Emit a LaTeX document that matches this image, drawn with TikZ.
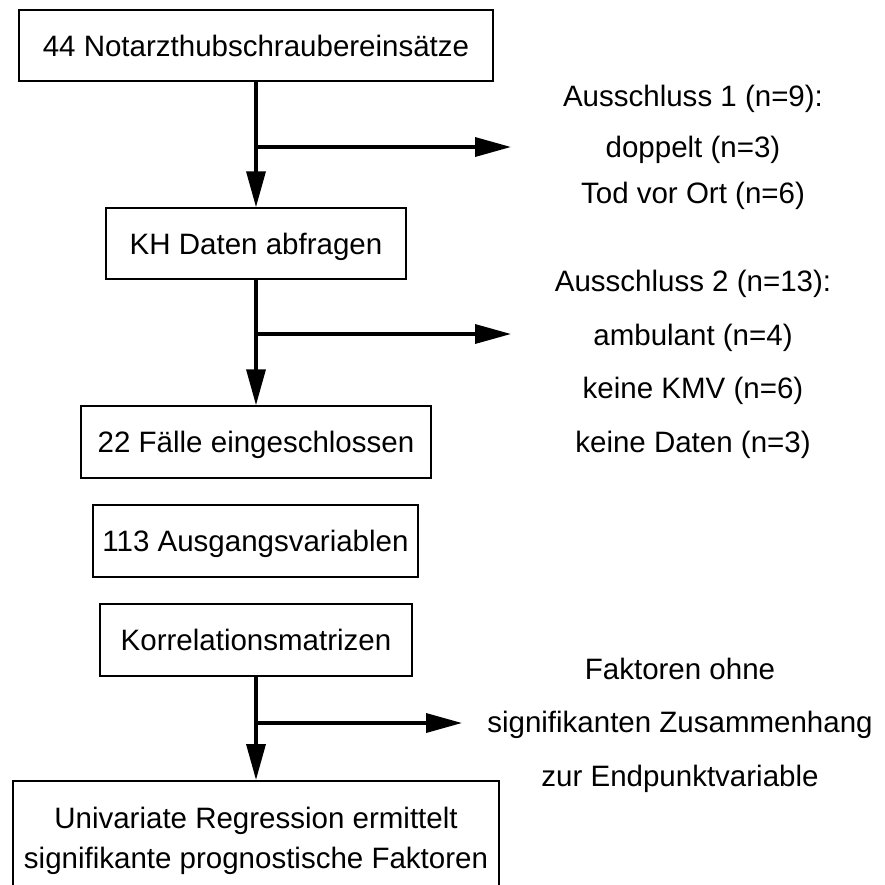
\documentclass[tikz,border=0pt]{standalone}
\usepackage{fontspec}
\setmainfont{Liberation Sans}
\usetikzlibrary{arrows.meta}
\tikzset{
  box/.style={draw=black, line width=1.5pt, inner sep=0pt, text height=21pt, text depth=0pt,
    font=\fontsize{29.5}{35}\selectfont},
  lbl/.style={anchor=base, inner sep=0pt, font=\fontsize{29.5}{35}\selectfont},
  flow/.style={line width=3.5pt, -{Triangle[length=36pt,width=19pt]}},
  flowline/.style={line width=3.5pt}
}
\begin{document}
\begin{tikzpicture}[x=1pt,y=-1pt]
\useasboundingbox (0,0) rectangle (885,884);
\clip (0,0) rectangle (885,884);
\fill[white] (0,0) rectangle (885,884);
% boxes
\node[box, minimum width=474pt, minimum height=71pt] (b1) at (256,45.5) {44 Notarzthubschraubereinsätze};
\node[box, minimum width=300pt, minimum height=71pt] (b2) at (256,243.5) {KH Daten abfragen};
\node[box, minimum width=350pt, minimum height=72pt] (b3) at (256,442) {22 Fälle eingeschlossen};
\node[box, minimum width=325pt, minimum height=72pt] (b4) at (255.5,541) {113 Ausgangsvariablen};
\node[box, minimum width=312pt, minimum height=72pt] (b5) at (256,640) {Korrelationsmatrizen};
\node[draw=black, line width=1.5pt, inner sep=0pt, minimum width=486pt, minimum height=120pt,
  anchor=north, align=center, font=\fontsize{29.5}{40}\selectfont] (b6) at (256,780)
  {Univariate Regression ermittelt\\signifikante prognostische Faktoren};
% branch points and arrow ends
\coordinate (j1) at (256,147);
\coordinate (e1) at (511,147);
\coordinate (j2) at (256,334);
\coordinate (e2) at (511,334);
\coordinate (j3) at (256,723);
\coordinate (e3) at (462,723);
% connectors
\draw[flow] (b1.south) -- (b2.north);
\draw[flow] (j1) -- (e1);
\draw[flow] (b2.south) -- (b3.north);
\draw[flow] (j2) -- (e2);
\draw[flow] (b5.south) -- (b6.north);
\draw[flow] (j3) -- (e3);
% exclusion labels
\node[lbl] (x1a) at (693,106) {Ausschluss 1 (n=9):};
\node[lbl] (x1b) at (693,157) {doppelt (n=3)};
\node[lbl] (x1c) at (693,203) {Tod vor Ort (n=6)};
\node[lbl] (x2a) at (693,291) {Ausschluss 2 (n=13):};
\node[lbl] (x2b) at (693,345) {ambulant (n=4)};
\node[lbl] (x2c) at (693,398) {keine KMV (n=6)};
\node[lbl] (x2d) at (693,452) {keine Daten (n=3)};
\node[lbl] (x3a) at (680,679) {Faktoren ohne};
\node[lbl] (x3b) at (680,732) {signifikanten Zusammenhang};
\node[lbl] (x3c) at (680,786) {zur Endpunktvariable};
\end{tikzpicture}
\end{document}
